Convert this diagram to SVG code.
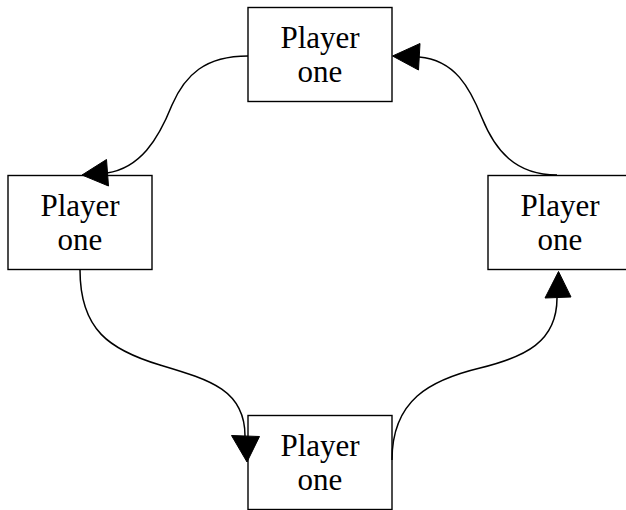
<svg xmlns="http://www.w3.org/2000/svg" width="626" height="510" viewBox="0 0 626 510">
<style>
.box{fill:#fff;stroke:#000;stroke-width:1.4}
.lbl{font-family:"Liberation Serif","Times New Roman",serif;font-size:31px;fill:#000;text-anchor:middle}
.edge{fill:none;stroke:#000;stroke-width:1.5}
.head{fill:#000;stroke:#000;stroke-width:1}
</style>
<rect width="626" height="510" fill="#fff"/>
<g id="node-top">
<rect class="box" x="248" y="7.5" width="144" height="94"/>
<text class="lbl" x="320" y="48">Player</text>
<text class="lbl" x="320" y="82">one</text>
</g>
<g id="node-left">
<rect class="box" x="8" y="175.5" width="144" height="94"/>
<text class="lbl" x="80" y="216">Player</text>
<text class="lbl" x="80" y="250">one</text>
</g>
<g id="node-right">
<rect class="box" x="488" y="175.5" width="144" height="94"/>
<text class="lbl" x="560" y="216">Player</text>
<text class="lbl" x="560" y="250">one</text>
</g>
<g id="node-bottom">
<rect class="box" x="248" y="415.5" width="144" height="94"/>
<text class="lbl" x="320" y="456">Player</text>
<text class="lbl" x="320" y="490">one</text>
</g>
<g id="connectors">
<path class="edge" d="M248,56 C205,56 185,75 172,105 C158,140 140,168 107,173"/>
<polygon class="head" points="82,175 106.5,159.5 108.5,186"/>
<path class="edge" d="M80,270 C80,330 110,350 160,365 C210,380 245,390 245,436"/>
<polygon class="head" points="247,462 231.5,435.5 259.5,436.5"/>
<path class="edge" d="M392,460 C392,400 430,380 480,368 C525,357 557,342 557,298"/>
<polygon class="head" points="558.5,271.5 545,298 571,297"/>
<path class="edge" d="M557,175 C515,175 495,150 482,118 C470,88 455,60 419,57"/>
<polygon class="head" points="392.5,56 420,43.5 418.5,70"/>
</g>
</svg>
